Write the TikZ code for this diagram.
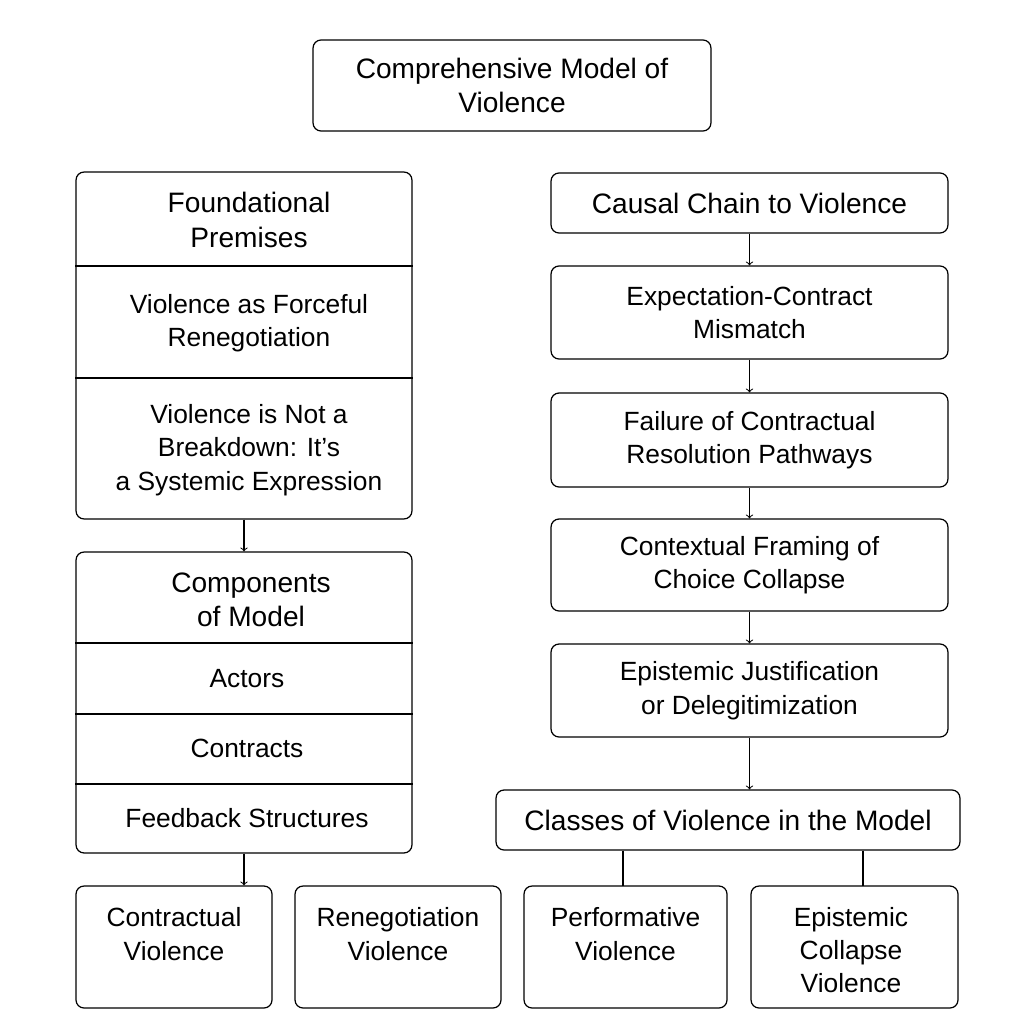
\documentclass[tikz,border=0pt]{standalone}
\usepackage{fontspec}
\setmainfont{Liberation Sans}
\usetikzlibrary{positioning}
\tikzset{
  box/.style={draw, rounded corners=0.16cm, line width=0.7pt, align=center, inner sep=0pt},
  txt/.style={align=center, font=\fontsize{15}{19}\selectfont},
  head/.style={align=center, font=\fontsize{16}{19.5}\selectfont},
  link/.style={->, line width=0.6pt}
}
\begin{document}
\begin{tikzpicture}[x=0.02cm, y=-0.02cm]
      \useasboundingbox (0,0) rectangle (1024,1024);

      % title
      \node[box, head, minimum width=7.96cm, minimum height=1.82cm] (title) at (512,85.5)
        {Comprehensive Model of\\Violence};

      % left column, premises
      \node[box, minimum width=6.72cm, minimum height=6.94cm] (prem) at (244,345.5) {};
      \draw[line width=0.7pt] (prem.west |- 0,266) -- (prem.east |- 0,266);
      \draw[line width=0.7pt] (prem.west |- 0,378) -- (prem.east |- 0,378);
      \node[head] (premT) at (249,220) {Foundational\\Premises};
      \node[txt] (prem1) at (249,323) {Violence as Forceful\\Renegotiation};
      \node[txt] (prem2) at (249,450) {Violence is Not a\\Breakdown: It's\\a Systemic Expression};

      % left column, components
      \node[box, minimum width=6.72cm, minimum height=6.02cm] (comp) at (244,702.5) {};
      \draw[line width=0.7pt] (comp.west |- 0,643) -- (comp.east |- 0,643);
      \draw[line width=0.7pt] (comp.west |- 0,714) -- (comp.east |- 0,714);
      \draw[line width=0.7pt] (comp.west |- 0,784) -- (comp.east |- 0,784);
      \node[head] (compT) at (251,600) {Components\\of Model};
      \node[txt] (actors) at (247,679) {Actors};
      \node[txt] (contracts) at (247,748) {Contracts};
      \node[txt] (feedback) at (247,818) {Feedback Structures};

      % right column, causal chain
      \node[box, head, minimum width=7.94cm, minimum height=1.2cm] (chain) at (749.5,203) {Causal Chain to Violence};
      \node[box, txt, minimum width=7.94cm, minimum height=1.86cm] (mismatch) at (749.5,312.5) {Expectation-Contract\\Mismatch};
      \node[box, txt, minimum width=7.94cm, minimum height=1.88cm] (failure) at (749.5,440) {Failure of Contractual\\Resolution Pathways};
      \node[box, txt, minimum width=7.94cm, minimum height=1.84cm] (framing) at (749.5,565) {Contextual Framing of\\Choice Collapse};
      \node[box, txt, minimum width=7.94cm, minimum height=1.86cm] (justify) at (749.5,690.5) {Epistemic Justification\\or Delegitimization};
      \node[box, head, minimum width=9.28cm, minimum height=1.2cm] (classes) at (728,820) {Classes of Violence in the Model};

      % bottom row
      \node[box, minimum width=3.92cm, minimum height=2.44cm] (contractual) at (174,947) {};
      \node[box, minimum width=4.12cm, minimum height=2.44cm] (reneg) at (398,947) {};
      \node[box, minimum width=4.06cm, minimum height=2.44cm] (perf) at (625.5,947) {};
      \node[box, minimum width=4.14cm, minimum height=2.44cm] (collapse) at (854.5,947) {};
      \node[txt] (contractualT) at (174,934) {Contractual\\Violence};
      \node[txt] (renegT) at (398,934) {Renegotiation\\Violence};
      \node[txt] (perfT) at (625.5,934) {Performative\\Violence};
      \node[txt] (collapseT) at (851,950) {Epistemic\\Collapse\\Violence};

      % arrows
      \draw[link] (prem.south) -- (comp.north);
      \draw[link] (comp.south) -- (comp.south |- contractual.north);
      \draw[link] (chain.south) -- (mismatch.north);
      \draw[link] (mismatch.south) -- (failure.north);
      \draw[link] (failure.south) -- (framing.north);
      \draw[link] (framing.south) -- (justify.north);
      \draw[link] (justify.south) -- (justify.south |- classes.north);

      % plain links to classes
      \coordinate (perfTop) at (623,886);
      \coordinate (collTop) at (863,886);
      \draw[line width=0.6pt] (classes.south -| perfTop) -- (perfTop);
      \draw[line width=0.6pt] (classes.south -| collTop) -- (collTop);
\end{tikzpicture}
\end{document}
